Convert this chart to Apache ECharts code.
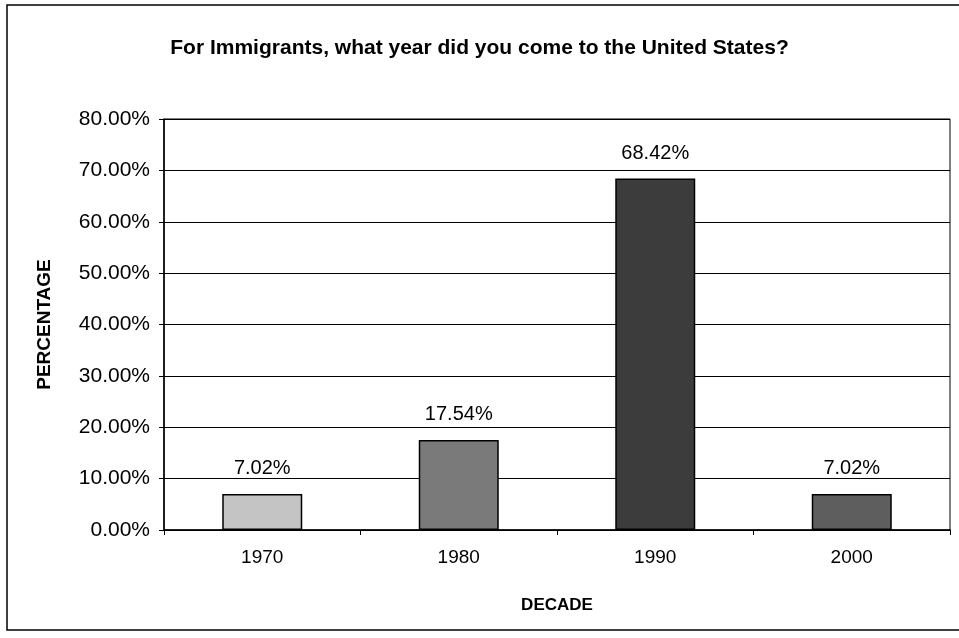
<!DOCTYPE html>
<html>
<head>
<meta charset="utf-8">
<script src="https://cdn.jsdelivr.net/npm/echarts@6/dist/echarts.min.js"></script>
<style>
  html, body { margin: 0; padding: 0; background: #fff; }
  #main { width: 959px; height: 638px; }
</style>
</head>
<body>
<div id="main"></div>
<script>
var decades = ['1970', '1980', '1990', '2000'];
var shares = [7.02, 17.54, 68.42, 7.02];
var barShades = ['#c4c4c4', '#7a7a7a', '#3c3c3c', '#5e5e5e'];

var chart = echarts.init(document.getElementById('main'));
var font = 'Liberation Sans, Arial, sans-serif';

var option = {
    animation: false,
    backgroundColor: '#fff',
    graphic: [{
        type: 'rect',
        shape: { x: 7, y: 5, width: 960, height: 625 },
        style: { fill: 'none', stroke: '#000', lineWidth: 1.5 },
        silent: true
    }],
    title: {
        text: 'For Immigrants, what year did you come to the United States?',
        left: 'center',
        top: 33,
        textStyle: {
            fontFamily: font,
            fontSize: 21,
            fontWeight: 'bold',
            color: '#000'
        }
    },
    grid: {
        left: 164,
        right: 9,
        top: 119,
        bottom: 108,
        show: true,
        borderColor: '#000',
        borderWidth: 1
    },
    xAxis: {
        type: 'category',
        data: decades,
        name: 'DECADE',
        nameLocation: 'middle',
        nameGap: 67,
        nameTextStyle: { fontFamily: font, fontSize: 17, fontWeight: 'bold', color: '#000' },
        axisLine: { lineStyle: { color: '#000', width: 1.5 } },
        axisTick: { show: true, alignWithLabel: false, length: 5, lineStyle: { color: '#000' } },
        axisLabel: { fontFamily: font, fontSize: 19, color: '#000', margin: 18 }
    },
    yAxis: {
        type: 'value',
        min: 0,
        max: 80,
        interval: 10,
        name: 'PERCENTAGE',
        nameLocation: 'middle',
        nameGap: 110,
        nameTextStyle: { fontFamily: font, fontSize: 19, fontWeight: 'bold', color: '#000' },
        axisLine: { show: true, lineStyle: { color: '#000', width: 1.5 } },
        axisTick: { show: true, length: 5, lineStyle: { color: '#000' } },
        axisLabel: {
            fontFamily: font,
            fontSize: 21,
            color: '#000',
            margin: 14,
            formatter: function (v) { return v.toFixed(2) + '%'; }
        },
        splitLine: { show: true, lineStyle: { color: '#000', width: 1 } }
    },
    series: [{
        type: 'bar',
        data: shares.map(function (v, i) {
            return { value: v, itemStyle: { color: barShades[i] } };
        }),
        barWidth: 80,
        itemStyle: { borderColor: '#000', borderWidth: 1.5 },
        label: {
            show: true,
            position: 'top',
            distance: 15,
            fontFamily: font,
            fontSize: 20,
            color: '#000',
            formatter: function (p) { return p.value.toFixed(2) + '%'; }
        }
    }]
};

chart.setOption(option);
</script>
</body>
</html>
